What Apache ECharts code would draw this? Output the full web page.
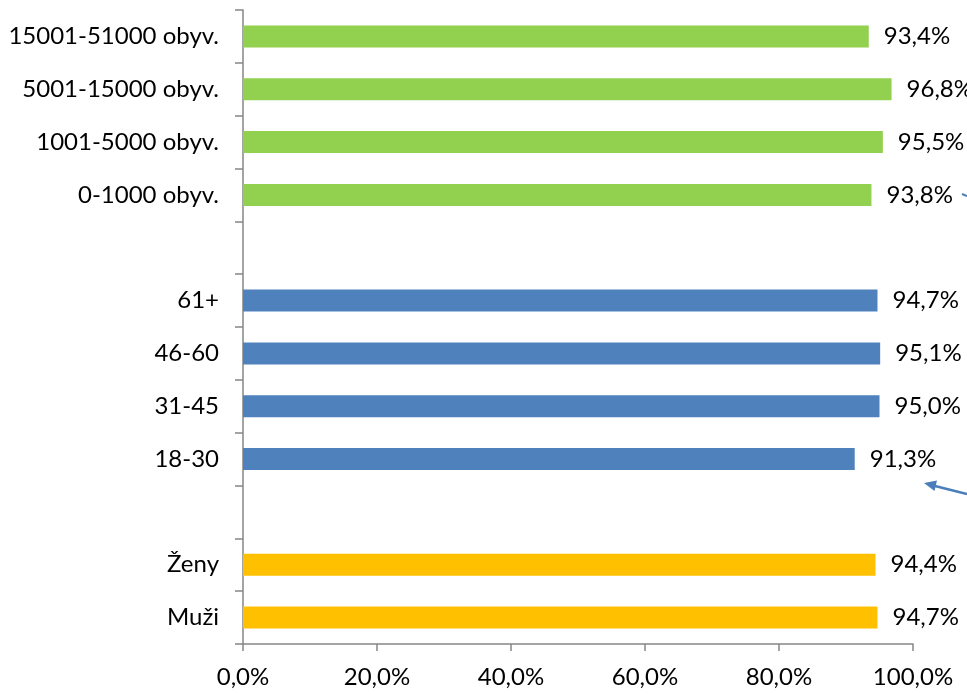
<!DOCTYPE html>
<html><head><meta charset="utf-8">
<script src="https://cdn.jsdelivr.net/npm/echarts@6/dist/echarts.min.js"></script>
<style>html,body{margin:0;padding:0;background:#fff}#c{width:967px;height:694px}</style>
</head><body><div id="c"></div>
<script>
var categories = ["Muži","Ženy","","18-30","31-45","46-60","61+","","0-1000 obyv.","1001-5000 obyv.","5001-15000 obyv.","15001-51000 obyv."];
var values = [94.7,94.4,null,91.3,95.0,95.1,94.7,null,93.8,95.5,96.8,93.4];
var barColors = ["#FFC000","#FFC000",null,"#4F81BD","#4F81BD","#4F81BD","#4F81BD",null,"#92D050","#92D050","#92D050","#92D050"];
var xTicks = [0,20,40,60,80,100];

var chart = echarts.init(document.getElementById('c'), null, {renderer:'canvas'});
var font = 'Lato, "Open Sans", sans-serif';
chart.setOption({
  animation:false,
  grid:{left:243,right:54,top:10,bottom:50,containLabel:false},
  xAxis:{type:'value',min:xTicks[0],max:xTicks[xTicks.length-1],interval:20,
    axisLine:{show:true,lineStyle:{color:'#868686',width:1.5}},
    axisTick:{show:true,length:7,lineStyle:{color:'#868686',width:1.5}},
    splitLine:{show:false},
    axisLabel:{color:'#000',fontSize:24,fontFamily:font,margin:21,
      formatter:function(v){return v.toFixed(1).replace('.',',')+'%';}}
  },
  yAxis:{type:'category',data:categories,
    axisLine:{show:true,lineStyle:{color:'#868686',width:1.5}},
    axisTick:{show:true,length:8,interval:0,lineStyle:{color:'#868686',width:1.5}},
    axisLabel:{color:'#000',fontSize:24,fontFamily:font,margin:24,interval:0}
  },
  series:[{type:'bar',barWidth:22,
    data:values.map(function(v,i){return {value:v,itemStyle:{color:barColors[i]||'#fff'}};}),
    label:{show:true,position:'right',distance:15,color:'#000',fontSize:24,fontFamily:font,
      formatter:function(p){return p.value==null?'':p.value.toFixed(1).replace('.',',')+'%';}}
  }],
  graphic:[
    {type:'line',shape:{x1:967,y1:494,x2:935,y2:486},style:{stroke:'#4A7EBB',lineWidth:2.5}},
    {type:'polygon',shape:{points:[[924,483],[937,480.5],[934.5,491]]},style:{fill:'#4A7EBB'}},
    {type:'line',shape:{x1:967,y1:196,x2:962,y2:194},style:{stroke:'#4A7EBB',lineWidth:2}}
  ]
});
</script></body></html>
